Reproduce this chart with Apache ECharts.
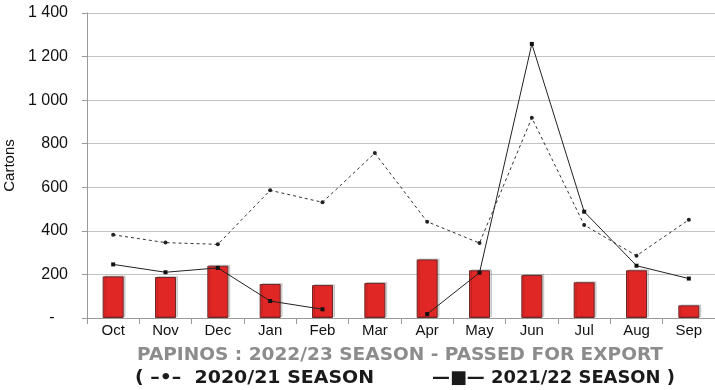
<!DOCTYPE html>
<html><head><meta charset="utf-8">
<script src="https://cdn.jsdelivr.net/npm/echarts@6/dist/echarts.min.js"></script>
<style>html,body{margin:0;padding:0;background:#fff}#c{width:715px;height:390px}</style>
</head><body><div id="c"></div>
<script>
const months = ['Oct','Nov','Dec','Jan','Feb','Mar','Apr','May','Jun','Jul','Aug','Sep'];
const season2223 = [191,188,240,156,151,161,269,219,197,164,219,58];
const season2021 = [382,346,338,586,531,757,442,344,919,427,286,451];
const season2122 = [246,210,230,78,40,null,18,208,1258,488,240,181];
const titleLine1 = 'PAPINOS : 2022/23 SEASON - PASSED FOR EXPORT';
const legendA = '( –•–  2020/21 SEASON';
const legendB = '—■— 2021/22 SEASON )';

const fontMain = '"Liberation Sans", Arial, sans-serif';
const ctx = document.createElement('canvas').getContext('2d');
function fitText(text, font, x0, x1, yc, color) {
  ctx.font = font;
  const w = ctx.measureText(text).width;
  return {type:'text', x:x0, y:yc, scaleX:(x1-x0)/w, scaleY:1,
    style:{text:text, x:0, y:0, font:font, fill:color, textAlign:'left', textVerticalAlign:'middle'}};
}
const f1 = 'bold 17px "DejaVu Sans", sans-serif';
const f2 = 'bold 18px "DejaVu Sans", sans-serif';

const chart = echarts.init(document.getElementById('c'));
chart.setOption({
  animation:false,
  grid:{left:87,right:0,top:13,bottom:72,outerBoundsMode:'none',containLabel:false},
  graphic:[
    fitText(titleLine1, f1, 137, 663, 356, '#8c8c8c'),
    fitText(legendA, f2, 135, 374, 378.5, '#1a1a1a'),
    fitText(legendB, f2, 432, 675, 378.5, '#1a1a1a')
  ],
  xAxis:{type:'category',data:months,
    axisLine:{lineStyle:{color:'#999'}},
    axisTick:{show:true,length:6,lineStyle:{color:'#999'}},
    axisLabel:{color:'#111',fontSize:15,fontFamily:fontMain,margin:5}},
  yAxis:{type:'value',min:0,max:1400,interval:200,
    name:'Cartons',nameLocation:'middle',nameGap:63,nameRotate:90,
    nameTextStyle:{color:'#111',fontSize:15,fontFamily:fontMain},
    axisLine:{show:true,lineStyle:{color:'#999'}},
    axisTick:{show:true,length:5,lineStyle:{color:'#999'}},
    splitLine:{lineStyle:{color:'#c4c4c4'}},
    axisLabel:{color:'#111',fontSize:16,fontFamily:fontMain,margin:19,
      formatter:v=>v===0?'-   ':String(v).replace(/\B(?=(\d{3})+(?!\d))/g,' ')}},
  series:[
    {type:'bar',data:season2223,barWidth:21,
     itemStyle:{color:'#e02726',borderColor:'#6a2a2a',borderWidth:1,
       shadowColor:'rgba(0,0,0,0.15)',shadowOffsetX:2,shadowOffsetY:-1,shadowBlur:0}},
    {type:'line',data:season2021,symbol:'circle',symbolSize:4,
     lineStyle:{color:'#333',width:1,type:[3,3]},itemStyle:{color:'#222'}},
    {type:'line',data:season2122,symbol:'rect',symbolSize:4,connectNulls:false,
     lineStyle:{color:'#222',width:1},itemStyle:{color:'#111'}}
  ]
});
</script></body></html>
